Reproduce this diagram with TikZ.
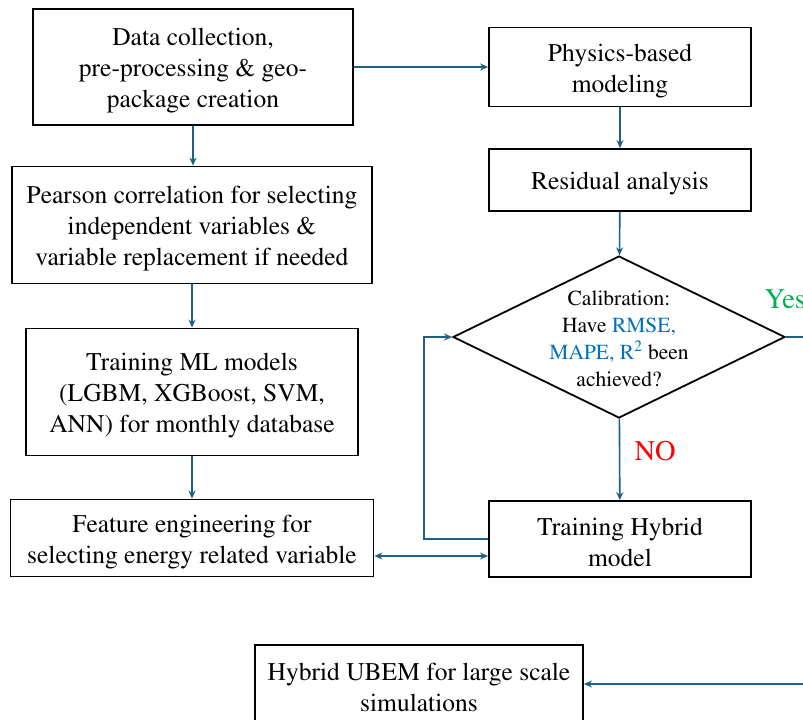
\documentclass[tikz,border=0pt]{standalone}
\usepackage[T1]{fontenc}
\usepackage{mathptmx}
\usetikzlibrary{arrows.meta,shapes.geometric}

\definecolor{flowblue}{RGB}{31,95,135}
\definecolor{metricblue}{RGB}{0,112,192}
\definecolor{yesgreen}{RGB}{0,176,80}
\newcommand{\topstrut}{\rule{0pt}{25pt}}

\begin{document}
\begin{tikzpicture}[x=1pt,y=-1pt,
    box/.style={draw,line width=1.8pt,align=center,inner sep=0pt,
      font=\fontsize{25.5}{31}\selectfont},
    arr/.style={draw=flowblue,line width=1.6pt,-{Stealth[length=8pt,width=7pt]}},
    lbl/.style={font=\fontsize{28.5}{30}\selectfont}]
	\useasboundingbox (0,0) rectangle (803,720);
	\clip (0,0) rectangle (803,720);

	% left column
	\node[box,minimum width=320,minimum height=116] (data) at (193,67)
		{\topstrut Data collection,\\pre-processing \& geo-\\package creation};
	\node[box,minimum width=360,minimum height=117] (pearson) at (192,225)
		{\topstrut Pearson correlation for selecting\\independent variables \&\\variable replacement if needed};
	\node[box,minimum width=332,minimum height=127] (ml) at (192,392)
		{\topstrut Training ML models\\(LGBM, XGBoost, SVM,\\ANN) for monthly database};
	\node[box,minimum width=363,minimum height=77] (feature) at (192,538)
		{\topstrut Feature engineering for\\selecting energy related variable};

	% right column
	\node[box,minimum width=262,minimum height=79] (physics) at (620,67)
		{\topstrut Physics-based\\modeling};
	\node[box,minimum width=262,minimum height=62] (residual) at (620,180)
		{\topstrut Residual analysis};
	\node[shape=diamond,draw,line width=1.8pt,inner sep=0pt,
		minimum width=332,minimum height=162] (calib) at (619,337) {};
	\node[align=center,font=\fontsize{21.5}{27}\selectfont] (calibtext) at (619,339)
		{Calibration:\\Have \textcolor{metricblue}{RMSE,}\\\textcolor{metricblue}{MAPE, R\textsuperscript{2}} been\\achieved?};
	\node[box,minimum width=262,minimum height=76] (hybrid) at (620,539)
		{\topstrut Training Hybrid\\model};

	\node[box,minimum width=328,minimum height=78] (ubem) at (419,684)
		{\topstrut Hybrid UBEM for large scale\\simulations};

	% connectors
	\draw[arr] (data.south) -- (data.south |- pearson.north);
	\draw[arr] (data.east) -- (physics.west);
	\draw[arr] (pearson) -- (ml);
	\draw[arr] (ml) -- (feature);
	\draw[arr] (physics) -- (residual);
	\draw[arr] (residual) -- (calib);
	\draw[arr] (calib) -- (hybrid);
	\draw[arr,{Stealth[length=8pt,width=7pt]}-{Stealth[length=8pt,width=7pt]}]
		([yshift=-17pt]hybrid.west) -- ([yshift=-17pt]hybrid.west -| feature.east);
	\draw[arr] (hybrid.west) -- ++(-64,0) |- (calib.west);
	\draw[arr] (calib.east) -- ++(45,0) coordinate (turn) |- (ubem.east);

	\node[lbl,text=red,anchor=base west] (no) at (631,460) {NO};
	\node[lbl,text=yesgreen,anchor=base west] (yes) at (761,308) {Yes};
\end{tikzpicture}
\end{document}
